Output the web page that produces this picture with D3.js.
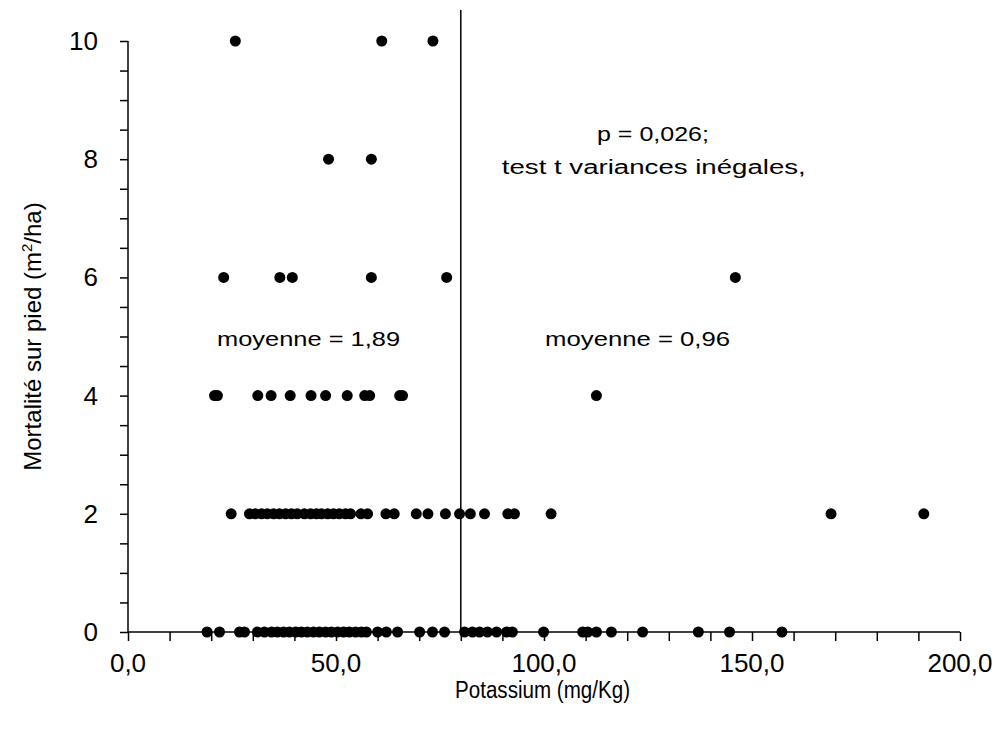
<!DOCTYPE html>
<html>
<head>
<meta charset="utf-8">
<script src="https://cdn.jsdelivr.net/npm/d3@7"></script>
<style>
  body { margin: 0; background: #fff; }
  svg text { font-family: "Liberation Sans", Arial, sans-serif; fill: #000; }
</style>
</head>
<body>
<svg id="chart" width="1007" height="729"></svg>
<script>
// potassium values (mg/Kg) grouped by mortality level (m2/ha)
const row0 = [19.0, 22.0, 26.8, 28.0, 31.1, 32.8, 34.5, 35.9, 37.4, 38.8, 40.3, 41.7, 43.1, 44.6,
  46.0, 47.5, 48.9, 50.4, 51.8, 53.2, 54.7, 56.1, 57.3, 60.0, 62.1, 64.8, 70.1, 73.2, 76.1,
  80.9, 82.8, 84.5, 86.4, 88.6, 91.0, 92.4, 99.9, 109.3, 110.5, 112.6, 116.2, 123.7, 137.1, 144.6, 157.2];
const row2 = [24.8, 29.2, 30.6, 32.1, 33.5, 35.0, 36.4, 37.9, 39.3, 40.7, 42.4, 43.9, 45.3, 46.5,
  48.0, 49.4, 50.8, 52.3, 53.5, 56.0, 57.6, 62.0, 64.0, 69.3, 72.1, 76.3, 79.7, 82.3, 85.7,
  91.3, 92.9, 101.7, 169.0, 191.3];
const row4 = [20.8, 21.5, 31.2, 34.4, 39.0, 44.0, 47.5, 52.7, 56.9, 58.1, 65.3, 66.0, 112.6];
const row6 = [23.0, 36.5, 39.5, 58.5, 76.6, 146.0];
const row8 = [48.2, 58.5];
const row10 = [25.8, 61.0, 73.3];

const levels = [0, 2, 4, 6, 8, 10];
const rows = [row0, row2, row4, row6, row8, row10];

const xTicks = [0, 50, 100, 150, 200];
const yTicks = [0, 2, 4, 6, 8, 10];
const splitValue = 80;

const noteTexts = ["p = 0,026;", "test t variances inégales,", "moyenne = 1,89", "moyenne = 0,96"];
// where each note sits (data units) and how wide it is drawn
const noteLayout = [
  { x: 126.2, y: 8.3, w: 112 },
  { x: 126.4, y: 7.75, w: 304 },
  { x: 43.4, y: 4.84, w: 183 },
  { x: 122.5, y: 4.84, w: 185 }
];

const svg = d3.select("#chart");
const margin = { left: 128, right: 47, top: 41, bottom: 97 };
const width = 1007, height = 729;

const x = d3.scaleLinear().domain([0, 200]).range([margin.left, width - margin.right]);
const y = d3.scaleLinear().domain([0, 10]).range([height - margin.bottom, margin.top]);

// minor ticks
const xAxis = d3.axisBottom(x).tickValues(d3.range(0, 201, 10)).tickSize(9).tickFormat("");
const yAxis = d3.axisLeft(y).tickValues(d3.range(0, 10.01, 0.5)).tickSize(8).tickFormat("");

const gx = svg.append("g").attr("transform", `translate(0,${y(0)})`).call(xAxis);
const gy = svg.append("g").attr("transform", `translate(${x(0)},0)`).call(yAxis);
[gx, gy].forEach(g => {
  g.select(".domain").attr("stroke", "#000").attr("stroke-width", 1.5);
  g.selectAll(".tick line").attr("stroke", "#000").attr("stroke-width", 1.5);
});
gx.select(".domain").attr("d", `M${x(0)},0H${x(200)}`);
gy.select(".domain").attr("d", `M0,${y(0)}V${y(10)}`);

// tick labels
svg.append("g").selectAll("text")
  .data(xTicks).join("text")
  .attr("x", d => x(d)).attr("y", y(0) + 40)
  .attr("text-anchor", "middle")
  .style("font-size", "26px")
  .text(d => d3.format(".1f")(d).replace(".", ","));

svg.append("g").selectAll("text")
  .data(yTicks).join("text")
  .attr("x", x(0) - 30).attr("y", d => y(d) + 9)
  .attr("text-anchor", "end")
  .style("font-size", "26px")
  .text(d => d);

// vertical split line
svg.append("line")
  .attr("x1", x(splitValue)).attr("x2", x(splitValue))
  .attr("y1", 10).attr("y2", y(0))
  .attr("stroke", "#000").attr("stroke-width", 1.5);

// points
const pts = [];
rows.forEach((r, i) => r.forEach(v => pts.push({ k: v, m: levels[i] })));
svg.append("g").selectAll("circle")
  .data(pts).join("circle")
  .attr("cx", d => x(d.k)).attr("cy", d => y(d.m))
  .attr("r", 5.5).attr("fill", "#000");

// annotations
svg.append("g").selectAll("text")
  .data(noteTexts).join("text")
  .attr("x", (d, i) => x(noteLayout[i].x) - noteLayout[i].w / 2)
  .attr("y", (d, i) => y(noteLayout[i].y))
  .attr("textLength", (d, i) => noteLayout[i].w)
  .attr("lengthAdjust", "spacingAndGlyphs")
  .style("font-size", "20px")
  .text(d => d);

// axis titles
svg.append("text")
  .attr("x", 455).attr("y", 698)
  .attr("textLength", 175)
  .attr("lengthAdjust", "spacingAndGlyphs")
  .style("font-size", "23px")
  .text("Potassium (mg/Kg)");

const yt = svg.append("text")
  .attr("transform", `translate(41,${(y(0) + y(10)) / 2}) rotate(-90)`)
  .attr("text-anchor", "middle")
  .style("font-size", "24px");
yt.append("tspan").text("Mortalité sur pied (m");
yt.append("tspan").attr("dy", -9).style("font-size", "15px").text("2");
yt.append("tspan").attr("dy", 9).text("/ha)");
</script>
</body>
</html>
